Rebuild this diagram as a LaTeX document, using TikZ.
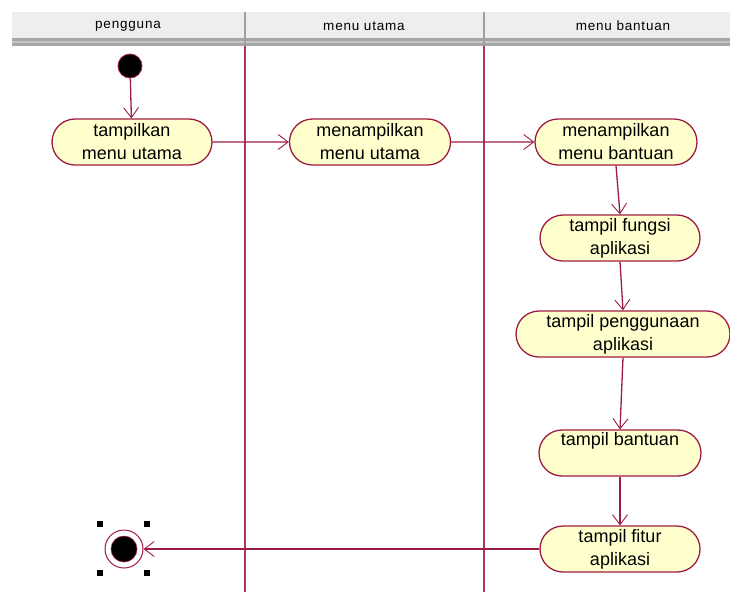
\documentclass[tikz,border=0pt]{standalone}
\usepackage{fontspec}
\setmainfont{Liberation Sans}
\newfontfamily\headfont[LetterSpace=6]{Liberation Sans}
\usetikzlibrary{arrows.meta,shapes.misc}
\definecolor{umlred}{RGB}{158,28,66}
\definecolor{lanered}{RGB}{176,52,96}
\definecolor{actfill}{RGB}{255,255,206}
\definecolor{headbg}{RGB}{238,238,238}
\begin{document}
\begin{tikzpicture}[x=1pt,y=-1pt,
  action/.style={rounded rectangle, draw=umlred, line width=1.3pt, fill=actfill,
    minimum height=46pt, inner sep=0pt, align=center,
    font=\fontsize{18}{23}\selectfont},
  flow/.style={draw=umlred, line width=1.3pt,
    -{Straight Barb[length=10pt,width=15pt,line width=0.9pt]}},
  lane/.style={draw=lanered, line width=1.5pt},
  headtxt/.style={font=\headfont\fontsize{13.5}{15}\selectfont, text=black},
  handle/.style={fill=black, minimum size=6pt, inner sep=0pt}]
\useasboundingbox (0,0) rectangle (730,592);

% swimlane header
\fill[headbg] (12,12) rectangle (730,39);
\draw[white!85!gray, line width=1pt] (12,12.5) -- (730,12.5);
\fill[gray!70] (12,38) rectangle (730,46);
\fill[gray!45] (12,41) rectangle (730,43);
\draw[gray!75, line width=2pt] (245,12) -- (245,46);
\draw[gray!75, line width=2pt] (484,12) -- (484,46);
\node[headtxt] (h1) at (128,26) {pengguna};
\node[headtxt] (h2) at (364,26) {menu utama};
\node[headtxt] (h3) at (623,26) {menu bantuan};

% lane separators
\draw[lane] (245,46) -- (245,592);
\draw[lane] (484,46) -- (484,592);

% start and end
\node[circle, fill=black, draw=umlred, line width=0.8pt, minimum size=24pt, inner sep=0pt] (start) at (130,66) {};
\node[circle, draw=umlred, line width=1pt, fill=white, minimum size=38pt, inner sep=0pt] (end) at (124,549) {};
\node[circle, fill=black, draw=umlred, line width=0.6pt, minimum size=26pt, inner sep=0pt] (endin) at (124,549) {};
\node[handle] (hA) at (100,524) {};
\node[handle] (hB) at (147,524) {};
\node[handle] (hC) at (100,573) {};
\node[handle] (hD) at (147,573) {};

% actions
\node[action, minimum width=160pt] (a1) at (132,142) {tampilkan\\menu utama};
\node[action, minimum width=161pt] (a2) at (370,142) {menampilkan\\menu utama};
\node[action, minimum width=162pt] (a3) at (616,142) {menampilkan\\menu bantuan};
\node[action, minimum width=160pt] (a4) at (620,238) {tampil fungsi\\aplikasi};
\node[action, minimum width=214pt] (a5) at (623,334) {tampil penggunaan\\aplikasi};
\node[action, minimum width=162pt] (a6) at (620,453) {tampil bantuan\\[-2pt]\strut};
\node[action, minimum width=160pt] (a7) at (620,549) {tampil fitur\\aplikasi};

% control flow
\draw[flow] (start) -- (a1);
\draw[flow] (a1) -- (a2);
\draw[flow] (a2) -- (a3);
\draw[flow] (a3.south) -- (a4.north);
\draw[flow] (a4.south) -- (a5.north);
\draw[flow] (a5.south) -- (a6.north);
\draw[flow] (a6.south) -- (a7.north);
\draw[flow] (a7) -- (end);
\end{tikzpicture}
\end{document}
